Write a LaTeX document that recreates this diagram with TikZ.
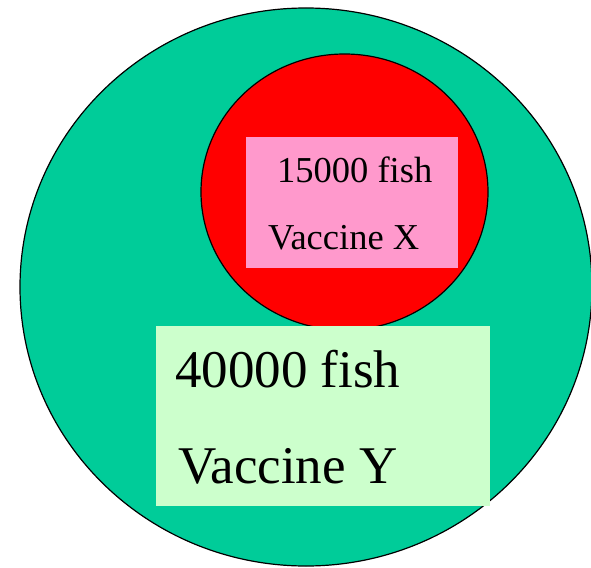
\documentclass[tikz,border=0pt]{standalone}
\usepackage{fontspec}
\setmainfont{Liberation Serif}
\usepackage{xcolor}
\usepackage{tikz}
\definecolor{FishGreen}{RGB}{0, 204, 153}
\definecolor{FishRed}{RGB}{255, 0, 0}
\definecolor{FishPink}{RGB}{255, 153, 204}
\definecolor{FishMint}{RGB}{204, 255, 204}

\begin{document}
\begin{tikzpicture}[x=1pt,y=-1pt]
  \path[use as bounding box] (0,0) rectangle (591,567);
  % outer group
  \draw[fill=FishGreen, line width=1.2pt] (306,287) ellipse [x radius=286, y radius=279];
  % inner group
  \draw[fill=FishRed, line width=1.2pt] (344.5,192) ellipse [x radius=143.5, y radius=138];
  \fill[FishPink] (246,137) rectangle (458,268);
  \fill[FishMint] (156,326) rectangle (490,506);
  \node[anchor=base west, inner sep=0pt] (xcount) at (277,182) {\fontsize{36.5}{40}\selectfont 15000 fish};
  \node[anchor=base west, inner sep=0pt] (xname) at (268,249) {\fontsize{36.5}{40}\selectfont Vaccine X};
  \node[anchor=base west, inner sep=0pt] (ycount) at (175,387) {\fontsize{53}{58}\selectfont 40000 fish};
  \node[anchor=base west, inner sep=0pt] (yname) at (178,483) {\fontsize{53}{58}\selectfont Vaccine Y};
\end{tikzpicture}
\end{document}
